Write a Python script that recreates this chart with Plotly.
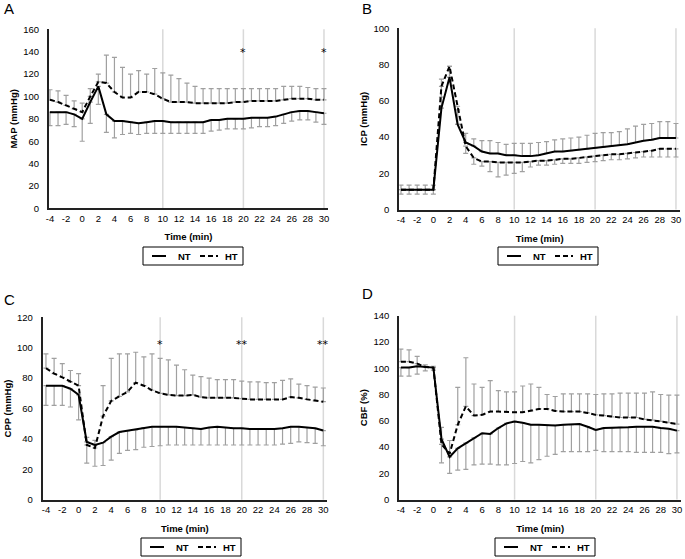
import plotly.graph_objects as go

# ---------------- data ----------------
TIME = [-4, -3, -2, -1, 0, 1, 2, 3, 4, 5, 6, 7, 8, 9, 10, 11, 12, 13, 14, 15, 16,
        17, 18, 19, 20, 21, 22, 23, 24, 25, 26, 27, 28, 29, 30]
TIME_TICKS = [-4, -2, 0, 2, 4, 6, 8, 10, 12, 14, 16, 18, 20, 22, 24, 26, 28, 30]
TIME_TICK_LABELS = [str(t) for t in TIME_TICKS]
GRID_X = [10, 20, 30]
SERIES_NAMES = ["NT", "HT"]

# Panel A: MAP (mmHg)
MAP_NT = [86, 86, 86, 84, 80, 95, 109, 84, 78, 78, 77, 76, 77, 78, 78, 77, 77, 77, 77, 77,
          79, 79, 80, 80, 80, 81, 81, 81, 82, 84, 86, 87, 87, 86, 85]
MAP_NT_ERR = [12, 12, 11, 11, 20, 19, 16, 16, 15, 12, 10, 10, 10, 11, 11, 10, 10, 10, 10, 10,
              10, 9, 9, 9, 9, 9, 8, 8, 8, 8, 8, 8, 8, 9, 10]
MAP_HT = [97, 95, 92, 89, 86, 100, 113, 112, 104, 99, 99, 104, 104, 102, 98, 95, 95, 95, 94, 94,
          94, 94, 94, 95, 95, 96, 96, 96, 96, 97, 98, 98, 98, 97, 97]
MAP_HT_ERR = [9, 10, 9, 7, 8, 7, 7, 25, 31, 27, 21, 19, 16, 23, 23, 24, 21, 17, 15, 13,
              13, 13, 13, 12, 12, 11, 11, 11, 11, 12, 11, 11, 10, 10, 10]
MAP_STAR_X = [20, 30]
MAP_STAR_TEXT = ["*", "*"]
MAP_STAR_Y = 139

# Panel B: ICP (mmHg)
ICP_NT = [11, 11, 11, 11, 11, 56, 73, 47, 37, 35, 32, 31, 31, 30, 30, 29.5, 29.5, 30, 31, 32,
          32, 32.5, 33, 33.5, 34, 34.5, 35, 35.5, 36, 37, 38, 38.5, 39.5, 39.5, 39.5]
ICP_NT_ERR = [2.5, 2.5, 2.5, 2.5, 2.5, 16, 6, 8, 5, 4, 6, 7, 6, 6, 6.5, 7, 7, 7, 6.5, 6.5,
              7, 7, 7, 7.5, 8, 8, 7.5, 7.5, 8.5, 9, 9, 9, 9, 9, 8]
ICP_HT = [11, 11, 11, 11, 11, 68, 79, 57, 35, 28.5, 26.5, 26.5, 26, 26, 26, 26, 26.5, 27, 27, 27.5,
          28, 28, 28.5, 29, 29.5, 30, 30.5, 30.5, 31, 31.5, 32, 32.5, 33.5, 33.5, 33.5]
ICP_HT_ERR = [2.5, 2.5, 2.5, 2.5, 2.5, 6, 6, 10, 4, 3.5, 2.5, 5.5, 8, 7, 6, 5, 3, 2.5, 2.5, 2.5,
              2.5, 2.5, 3, 3, 3, 3, 3, 3, 3, 3, 3, 3.5, 4.5, 4.5, 4.5]

# Panel C: CPP (mmHg)
CPP_NT = [75, 75, 75, 73, 69, 38, 36, 37.5, 41.5, 44.5, 45.5, 46, 47.5, 48, 48, 48, 48, 47.5, 47, 46.5,
          47.5, 48, 47.5, 47, 47, 46.5, 46.5, 46.5, 46.5, 47, 48, 48, 47.5, 47, 45.5]
CPP_NT_ERR = [13, 13, 13, 12, 16.5, 14, 14, 15, 15.5, 14, 13, 13, 13, 13, 12.5, 12, 12, 11.5, 11, 10.5,
              11.5, 12, 11.5, 11, 11, 10.5, 10.5, 10.5, 10.5, 10.5, 11, 10, 10, 10, 10]
CPP_HT = [86.5, 83, 80.5, 77.5, 75, 36, 34, 55, 65, 68, 71, 77, 75, 72, 70, 69, 68.5, 68.5, 69, 67.5,
          67, 67, 67, 67, 66.5, 66, 66, 66, 66, 66, 67.5, 67, 66, 65, 64.5]
CPP_HT_ERR = [9.5, 10, 9, 7.5, 8, 5, 5, 20, 28, 28, 25, 20, 19, 24, 23, 23, 20, 17, 13, 13.5,
              13, 12, 12, 12, 11.5, 11.5, 11.5, 11, 11, 12.5, 12, 9, 9, 9, 9]
CPP_STAR_X = [10, 20, 30]
CPP_STAR_TEXT = ["*", "**", "**"]
CPP_STAR_Y = 102

# Panel D: CBF (%)
CBF_NT = [100.5, 100.5, 101.5, 101, 100.5, 46, 32.5, 39, 43, 47, 50.5, 50, 54.5, 58, 59.5, 58.5, 57, 57, 56.5, 56.5,
          57, 57, 57.5, 55.5, 53, 54.5, 54.5, 55, 55, 55.5, 55.5, 55.5, 54.5, 54, 52.5]
CBF_NT_ERR = [6.5, 6.5, 6, 3, 2, 18, 12.5, 16.5, 20, 20.5, 23.5, 23, 28, 31.5, 32, 29.5, 29, 26.5, 23.5, 22,
              20.5, 20.5, 21, 19, 15.5, 18, 18, 18.5, 18.5, 19.5, 19.5, 19.5, 18.5, 19, 17]
CBF_HT = [105, 105, 103.5, 101, 100.5, 42, 35, 57, 71, 64, 64.5, 67, 67, 66.5, 66.5, 66.5, 67.5, 69, 69, 67.5,
          67, 67, 67, 66, 64.5, 64, 63, 62.5, 62.5, 62.5, 61, 60.5, 59.5, 58.5, 57.5]
CBF_HT_ERR = [9.5, 9, 5.5, 1.5, 1, 13, 10, 28.5, 37, 24, 21, 23.5, 16, 15.5, 15.5, 20, 20.5, 16.5, 11, 11,
              13.5, 13.5, 13.5, 14.5, 15.5, 16.5, 17.5, 18.5, 18.5, 18.5, 20, 21.5, 20.5, 21, 22]

# ---------------- styling / layout ----------------
W, H = 685, 559
FONT = "Liberation Sans, Arial, sans-serif"
ERR_COLOR = "#A0A0A0"
AXIS_COLOR = "#222222"
DASH = "5px,3px"


def px_x(p):
    return p / W


def px_y(p):
    return 1 - p / H


panels = [
    dict(letter="A", ylabel="MAP (mmHg)", yrange=[0, 160], dtick=20,
         nt=MAP_NT, nt_err=MAP_NT_ERR, ht=MAP_HT, ht_err=MAP_HT_ERR, nt_up=False,
         xdom=[49, 328], ydom=[208.4, 29.3], xr=[-4.12, 30.5],
         letter_xy=(9, 9), legend_lt=(143, 247),
         stars=(MAP_STAR_X, MAP_STAR_TEXT, MAP_STAR_Y)),
    dict(letter="B", ylabel="ICP (mmHg)", yrange=[0, 100], dtick=20,
         nt=ICP_NT, nt_err=ICP_NT_ERR, ht=ICP_HT, ht_err=ICP_HT_ERR, nt_up=True,
         xdom=[399.3, 680], ydom=[209.6, 28.3], xr=[-4.21, 30.5],
         letter_xy=(367, 9), legend_lt=(498, 247), stars=None),
    dict(letter="C", ylabel="CPP (mmHg)", yrange=[0, 120], dtick=20,
         nt=CPP_NT, nt_err=CPP_NT_ERR, ht=CPP_HT, ht_err=CPP_HT_ERR, nt_up=False,
         xdom=[42.7, 327], ydom=[499.7, 317.3], xr=[-4.4, 30.45],
         letter_xy=(9, 299), legend_lt=(141, 538),
         stars=(CPP_STAR_X, CPP_STAR_TEXT, CPP_STAR_Y)),
    dict(letter="D", ylabel="CBF (%)", yrange=[0, 140], dtick=20,
         nt=CBF_NT, nt_err=CBF_NT_ERR, ht=CBF_HT, ht_err=CBF_HT_ERR, nt_up=False,
         xdom=[399.3, 681], ydom=[499.6, 315.7], xr=[-4.2, 30.5],
         letter_xy=(367, 293), legend_lt=(495, 538), stars=None),
]

fig = go.Figure()
layout = dict(
    template="none",
    width=W, height=H, margin=dict(l=0, r=0, t=0, b=0, autoexpand=False),
    paper_bgcolor="white", plot_bgcolor="white",
    font=dict(family=FONT, size=10, color="#000000"),
    showlegend=False,
)
annotations = []
shapes = []

for i, p in enumerate(panels):
    n = "" if i == 0 else str(i + 1)
    xa, ya = "x" + n, "y" + n
    zeros = [0] * len(TIME)

    # error bars (drawn first so lines sit on top)
    for vals, errs, up in ((p["nt"], p["nt_err"], p["nt_up"]),
                           (p["ht"], p["ht_err"], not p["nt_up"])):
        fig.add_trace(go.Scatter(
            x=TIME, y=vals, xaxis=xa, yaxis=ya, mode="none", showlegend=False,
            hoverinfo="skip",
            error_y=dict(type="data", symmetric=False,
                         array=errs if up else zeros,
                         arrayminus=zeros if up else errs,
                         color=ERR_COLOR, thickness=1.2, width=2.5),
        ))
    fig.add_trace(go.Scatter(x=TIME, y=p["nt"], xaxis=xa, yaxis=ya, mode="lines",
                             name=SERIES_NAMES[0], line=dict(color="black", width=2)))
    fig.add_trace(go.Scatter(x=TIME, y=p["ht"], xaxis=xa, yaxis=ya, mode="lines",
                             name=SERIES_NAMES[1], line=dict(color="black", width=2, dash=DASH)))

    layout["xaxis" + n] = dict(
        domain=[px_x(p["xdom"][0]), px_x(p["xdom"][1])], anchor=ya, range=p["xr"],
        tickmode="array", tickvals=TIME_TICKS, ticktext=TIME_TICK_LABELS, automargin=False,
        showline=True, linecolor=AXIS_COLOR, linewidth=2, showgrid=False, zeroline=False,
        ticks="", tickfont=dict(size=9.5, family=FONT, color="black"),
        title=dict(text="<b>Time (min)</b>", font=dict(size=9.5, family=FONT, color="black"),
                   standoff=11),
    )
    layout["yaxis" + n] = dict(
        domain=[px_y(p["ydom"][0]), px_y(p["ydom"][1])], anchor=xa, range=p["yrange"],
        dtick=p["dtick"], automargin=False,
        showline=True, linecolor=AXIS_COLOR, linewidth=2, showgrid=False, zeroline=False,
        ticks="", tickfont=dict(size=9.5, family=FONT, color="black"), ticklabelstandoff=6,
        title=dict(text="<b>" + p["ylabel"] + "</b>", font=dict(size=9.5, family=FONT, color="black"),
                   standoff=4),
    )
    for gx in GRID_X:
        shapes.append(dict(type="line", xref=xa, yref=ya + " domain", x0=gx, x1=gx, y0=0, y1=1,
                           line=dict(color="#D9D9D9", width=1.5), layer="below"))
    annotations.append(dict(text=p["letter"], xref="paper", yref="paper",
                            x=px_x(p["letter_xy"][0]), y=px_y(p["letter_xy"][1]),
                            xanchor="center", yanchor="middle", showarrow=False,
                            font=dict(size=15, family=FONT, color="black")))
    if p["stars"]:
        sx, st, sy = p["stars"]
        for x_, t_ in zip(sx, st):
            annotations.append(dict(text=t_, xref=xa, yref=ya, x=x_, y=sy, showarrow=False,
                                    xanchor="center", yanchor="middle",
                                    font=dict(size=11, family="DejaVu Sans, sans-serif",
                                              color="black")))

    # legend box (drawn as a framed key below each panel)
    lx, ty = p["legend_lt"]
    bw, bh = 100, 18
    cy = ty + bh / 2
    shapes.append(dict(type="rect", xref="paper", yref="paper",
                       x0=px_x(lx), x1=px_x(lx + bw), y0=px_y(ty + bh), y1=px_y(ty),
                       line=dict(color="black", width=1), fillcolor="white"))
    for k, (x0, x1, tx, dash) in enumerate(((9, 23, 33, "solid"), (57, 75, 80, DASH))):
        shapes.append(dict(type="line", xref="paper", yref="paper",
                           x0=px_x(lx + x0), x1=px_x(lx + x1), y0=px_y(cy), y1=px_y(cy),
                           line=dict(color="black", width=2, dash=dash)))
        annotations.append(dict(text="<b>" + SERIES_NAMES[k] + "</b>", xref="paper", yref="paper",
                                x=px_x(lx + tx), y=px_y(cy), xanchor="left", yanchor="middle",
                                showarrow=False, font=dict(size=9.5, family=FONT, color="black")))

layout["annotations"] = annotations
layout["shapes"] = shapes
fig.update_layout(**layout)
fig.write_html(
    "out.html",
    config={"displayModeBar": False, "staticPlot": True},
    post_script="document.body.style.margin='0';document.body.style.overflow='hidden';",
)
